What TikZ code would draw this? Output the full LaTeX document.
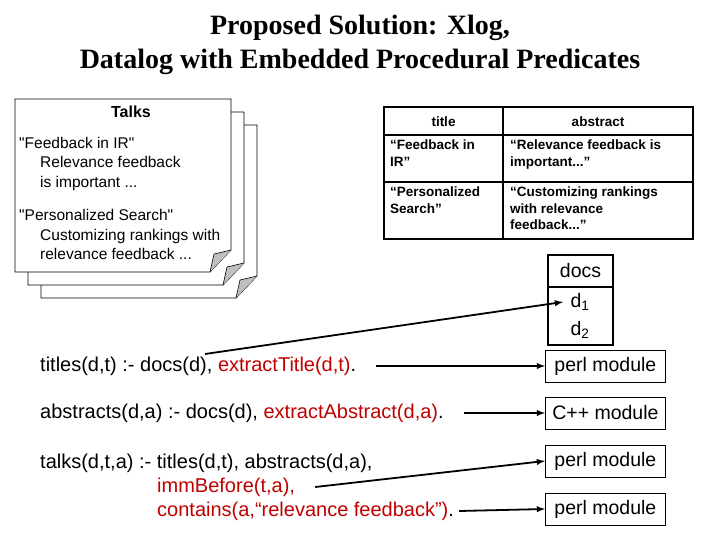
\documentclass[tikz,border=0pt]{standalone}
\usepackage{fontspec}
\setmainfont{Liberation Sans}
\newfontfamily\titlefont{Liberation Serif}
\begin{document}
\begin{tikzpicture}[x=1pt,y=-1pt,
  page/.style={draw,fill=white,line width=0.8pt},
  tbl/.style={line width=1.6pt},
  modbox/.style={draw,line width=0.8pt,minimum height=32pt,minimum width=120pt,inner sep=5pt,font=\fontsize{19.5}{22}\selectfont,anchor=west},
  rule/.style={anchor=west,font=\fontsize{20}{22}\selectfont,inner sep=0pt},
  arr/.style={-latex,line width=1.8pt},
  cell/.style={font=\fontsize{13.5}{16.5}\selectfont\bfseries,align=left,anchor=north west,inner sep=0pt}]
\useasboundingbox (0,0) rectangle (720,540);
\node[font=\titlefont\bfseries\fontsize{28}{34}\selectfont,align=center] (title) at (360,45) {Proposed Solution: Xlog,\\Datalog with Embedded Procedural Predicates};
% pages
\foreach \d/\n in {26/p3,13/p2,0/p1}{
  \draw[page] (15+\d,99+\d) -- (231+\d,99+\d) -- (231+\d,250+\d) -- (210+\d,272+\d) -- (15+\d,272+\d) -- cycle;
  \fill[gray!50] (231+\d,250+\d) -- (210+\d,272+\d) -- (214+\d,254+\d) -- cycle;
  \draw[line width=0.6pt] (231+\d,250+\d) -- (214+\d,254+\d) -- (210+\d,272+\d);
}
\node[font=\fontsize{16}{19}\selectfont\bfseries] (talks) at (131,112) {Talks};
\node[anchor=north west,align=left,font=\fontsize{15.5}{19.5}\selectfont,inner sep=0pt] (pt) at (19,137)
 {\textquotedbl Feedback in IR\textquotedbl\\\hspace*{21pt}Relevance feedback\\\hspace*{21pt}is important ...\\[14pt]\textquotedbl Personalized Search\textquotedbl\\\hspace*{21pt}Customizing rankings with\\\hspace*{21pt}relevance feedback ...};
% table
\draw[tbl] (384,107) rectangle (693,239);
\draw[tbl] (503,107) -- (503,239) (384,135) -- (693,135) (384,182) -- (693,182);
\node[font=\fontsize{13.5}{16}\selectfont\bfseries] (th1) at (443.5,122) {title};
\node[font=\fontsize{13.5}{16}\selectfont\bfseries] (th2) at (598,122) {abstract};
\node[cell] (c11) at (390,140) {“Feedback in\\IR”};
\node[cell] (c12) at (510,140) {“Relevance feedback is\\important...”};
\node[cell] (c21) at (390,187) {“Personalized\\Search”};
\node[cell] (c22) at (510,187) {“Customizing rankings\\with relevance\\feedback...”};
% docs
\draw[line width=1.3pt] (548,255) rectangle (613,345);
\draw[line width=1.3pt] (548,287) -- (613,287);
\node[font=\fontsize{19.5}{22}\selectfont] (docs) at (580.5,271) {docs};
\node[font=\fontsize{19.5}{22}\selectfont] (d1) at (580,302) {d\textsubscript{1}};
\node[font=\fontsize{19.5}{22}\selectfont] (d2) at (580,330) {d\textsubscript{2}};
% modules
\node[modbox] (m1) at (545,366) {perl module};
\node[modbox] (m2) at (545,413) {C++ module};
\node[modbox] (m3) at (545,461) {perl module};
\node[modbox] (m4) at (545,509) {perl module};
% rules
\node[rule] (r1) at (40,366) {titles(d,t) :- docs(d), \textcolor{red!75!black}{extractTitle(d,t)}.};
\node[rule] (r2) at (40,413) {abstracts(d,a) :- docs(d), \textcolor{red!75!black}{extractAbstract(d,a)}.};
\node[rule] (r3) at (40,463) {talks(d,t,a) :- titles(d,t), abstracts(d,a),};
\node[rule,text=red!75!black] (r4) at (157,487) {immBefore(t,a),};
\node[rule] (r5) at (157,511) {\textcolor{red!75!black}{contains(a,“relevance feedback”)}.};
\coordinate (s0) at (205,354);
\draw[arr] (s0) -- ([xshift=-4pt]d1.west);
\draw[arr] ([xshift=20pt]r1.east) -- (m1.west);
\draw[arr] ([xshift=20pt]r2.east) -- (m2.west);
\draw[arr] ([xshift=20pt]r4.east) -- (m3.west);
\draw[arr] ([xshift=5pt]r5.east) -- (m4.west);
\end{tikzpicture}
\end{document}
